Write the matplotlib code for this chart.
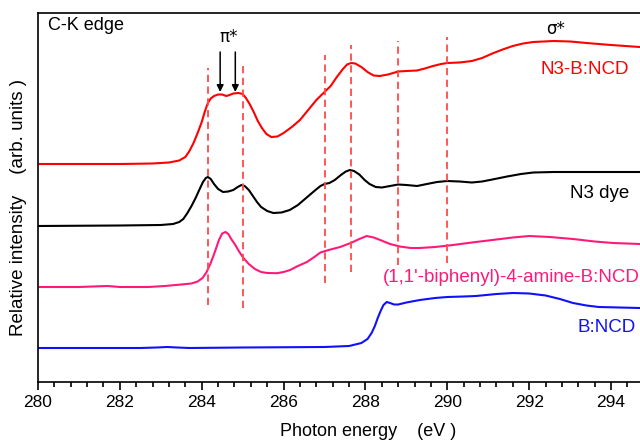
import numpy as np
import matplotlib
matplotlib.use("Agg")
from matplotlib import pyplot as plt

plt.rcParams['font.family'] = ['Liberation Sans', 'DejaVu Sans']

# photon energy (eV) and relative intensity (arb. units, offset per curve)
e_n3bncd = [280.0, 281.0, 282.0, 282.8, 283.2, 283.45, 283.6, 283.7, 283.8, 283.9,
            284.0, 284.08, 284.15, 284.22, 284.3, 284.4, 284.5, 284.6, 284.68, 284.77,
            284.9, 285.0, 285.08, 285.17, 285.27, 285.37, 285.47, 285.58, 285.7, 285.85,
            286.0, 286.2, 286.4, 286.6, 286.8, 287.0, 287.15, 287.3, 287.45, 287.55,
            287.65, 287.75, 287.9, 288.05, 288.2, 288.35, 288.55, 288.8, 289.0, 289.26,
            289.45, 289.65, 289.85, 290.0, 290.3, 290.6, 290.85, 291.1, 291.35, 291.6,
            291.85, 292.1, 292.6, 293.0, 293.4, 294.0, 294.7]
i_n3bncd = [21.8, 21.8, 21.8, 21.85, 21.95, 22.15, 22.5, 23.1, 23.9, 24.9,
            26.0, 27.1, 27.9, 28.35, 28.6, 28.75, 28.75, 28.6, 28.7, 28.85,
            28.9, 28.8, 28.4, 27.8, 27.0, 26.1, 25.4, 24.8, 24.5, 24.55,
            24.9, 25.5, 26.2, 27.2, 28.2, 29.0, 29.6, 30.5, 31.3, 31.75,
            31.9, 31.85, 31.5, 31.0, 30.65, 30.6, 30.75, 31.05, 31.1, 31.15,
            31.35, 31.6, 31.8, 31.9, 31.95, 32.1, 32.4, 32.85, 33.25, 33.6,
            33.85, 34.0, 34.1, 34.05, 33.9, 33.7, 33.5]

e_n3dye = [280.0, 282.0, 283.0, 283.3, 283.45, 283.55, 283.65, 283.75, 283.85, 283.95,
           284.03, 284.1, 284.15, 284.22, 284.3, 284.4, 284.52, 284.65, 284.77, 284.88,
           284.97, 285.05, 285.15, 285.25, 285.35, 285.45, 285.6, 285.75, 285.95, 286.15,
           286.35, 286.55, 286.75, 286.9, 287.0, 287.12, 287.25, 287.4, 287.52, 287.62,
           287.72, 287.85, 287.98, 288.1, 288.25, 288.4, 288.6, 288.8, 289.0, 289.26,
           289.5, 289.75, 290.0, 290.3, 290.6, 290.85, 291.1, 291.46, 291.8, 292.1,
           292.6, 293.5, 294.7]
i_n3dye = [15.6, 15.65, 15.7, 15.8, 16.0, 16.3, 16.9, 17.6, 18.4, 19.3,
           20.0, 20.4, 20.5, 20.3, 19.8, 19.3, 19.0, 19.05, 19.2, 19.5,
           19.7, 19.6, 19.2, 18.6, 18.0, 17.5, 17.1, 16.9, 16.95, 17.2,
           17.7, 18.4, 19.1, 19.6, 19.8, 19.9, 20.2, 20.7, 21.05, 21.2,
           21.1, 20.75, 20.2, 19.8, 19.5, 19.45, 19.6, 19.75, 19.7, 19.6,
           19.8, 20.0, 20.1, 20.05, 19.95, 20.05, 20.25, 20.55, 20.8, 20.95,
           21.0, 21.0, 21.0]

e_biph = [280.0, 281.0, 281.7, 282.0, 282.7, 283.1, 283.5, 283.75, 283.9, 284.02,
          284.12, 284.22, 284.32, 284.42, 284.5, 284.58, 284.65, 284.72, 284.82, 284.92,
          285.02, 285.15, 285.3, 285.45, 285.6, 285.84, 286.0, 286.16, 286.35, 286.57,
          286.75, 286.9, 287.1, 287.38, 287.64, 287.85, 288.03, 288.2, 288.36, 288.6,
          288.84, 289.1, 289.33, 289.7, 290.14, 290.6, 291.1, 291.6, 292.0, 292.5,
          293.07, 293.6, 294.05, 294.7]
i_biph = [9.5, 9.5, 9.6, 9.5, 9.5, 9.6, 9.75, 9.85, 10.05, 10.4,
          11.0, 11.9, 13.0, 14.2, 14.85, 15.0, 14.8, 14.3, 13.7, 13.0,
          12.4, 11.8, 11.3, 11.0, 10.9, 10.88, 11.0, 11.2, 11.6, 12.0,
          12.5, 12.95, 13.2, 13.5, 13.9, 14.3, 14.6, 14.45, 14.2, 13.8,
          13.55, 13.4, 13.4, 13.5, 13.7, 13.95, 14.2, 14.45, 14.6, 14.5,
          14.3, 14.05, 13.9, 13.8]

e_bncd = [280.0, 282.5, 282.9, 283.15, 283.4, 283.7, 285.0, 287.0, 287.6, 287.9,
          288.05, 288.15, 288.23, 288.3, 288.37, 288.44, 288.52, 288.6, 288.7, 288.8,
          289.0, 289.33, 289.7, 290.0, 290.4, 290.7, 291.2, 291.6, 292.0, 292.4,
          292.75, 293.07, 293.4, 293.7, 294.2, 294.7]
i_bncd = [3.4, 3.4, 3.45, 3.5, 3.45, 3.4, 3.45, 3.5, 3.6, 3.9,
          4.3, 4.9, 5.6, 6.4, 7.1, 7.7, 8.0, 7.9, 7.75, 7.75,
          7.95, 8.2, 8.4, 8.5, 8.55, 8.6, 8.8, 8.9, 8.85, 8.65,
          8.3, 7.9, 7.65, 7.5, 7.45, 7.4]

# marker lines: energy, bottom, top
peak_e = [284.15, 285.0, 287.0, 287.65, 288.8, 290.0]
peak_lo = [7.7, 7.4, 9.9, 11.0, 11.7, 11.9]
peak_hi = [31.4, 31.9, 32.7, 33.7, 34.1, 34.5]

pi_arrows = [284.45, 284.82]

fig = plt.figure(figsize=(6.4, 4.42), dpi=100)
ax = fig.add_axes([38/640, 1 - 382/442, 614/640, 369/442])

kw = dict(lw=1.5, solid_joinstyle='round', solid_capstyle='round')
ax.plot(e_n3bncd, i_n3bncd, color='#ff0000', **kw)
ax.plot(e_n3dye, i_n3dye, color='black', **kw)
ax.plot(e_biph, i_biph, color='#ff1a7a', **kw)
ax.plot(e_bncd, i_bncd, color='#1010ff', **kw)

ax.vlines(peak_e, peak_lo, peak_hi, colors='#ff4a4a', linestyles=(0, (4, 2.5)), lw=1.3)

for e in pi_arrows:
    ax.annotate('', xy=(e, 29.0), xytext=(e, 33.0),
                arrowprops=dict(arrowstyle='-|>', color='black', lw=1.1,
                                mutation_scale=10, shrinkA=0, shrinkB=0))
ax.text(284.65, 34.5, 'π*', fontsize=12, ha='center', va='center', family=['DejaVu Sans'])
ax.text(292.65, 35.3, 'σ*', fontsize=12, ha='center', va='center', family=['DejaVu Sans'])

ax.text(280.25, 35.6, 'C-K edge', fontsize=13, ha='left', va='center')
ax.text(294.45, 31.2, 'N3-B:NCD', fontsize=13.5, color='#ff0000', ha='right', va='center')
ax.text(294.45, 18.9, 'N3 dye', fontsize=13.5, color='black', ha='right', va='center')
ax.text(294.7, 10.5, "(1,1'-biphenyl)-4-amine-B:NCD", fontsize=13.5, color='#ff1a7a',
        ha='right', va='center')
ax.text(294.6, 5.4, 'B:NCD', fontsize=13.5, color='#1010ff', ha='right', va='center')

ax.set_xlim(280, 295)
ax.set_ylim(0, 36.9)
ax.set_xticks(np.arange(280, 295, 2))
ax.set_xticks(np.arange(280, 295, 0.4), minor=True)
ax.set_yticks([])
ax.tick_params(axis='x', which='major', direction='out', length=6, width=1.2, labelsize=12.5)
ax.tick_params(axis='x', which='minor', direction='out', length=3.5, width=1.2)
ax.spines['right'].set_visible(False)
for s in ['left', 'top', 'bottom']:
    ax.spines[s].set_linewidth(1.2)

ax.set_xlabel('Photon energy    (eV )', fontsize=13, labelpad=9, x=0.537)
ax.set_ylabel('Relative intensity    (arb. units )', fontsize=13.5, labelpad=8, y=0.474)

fig.savefig('out.png', dpi=100)
